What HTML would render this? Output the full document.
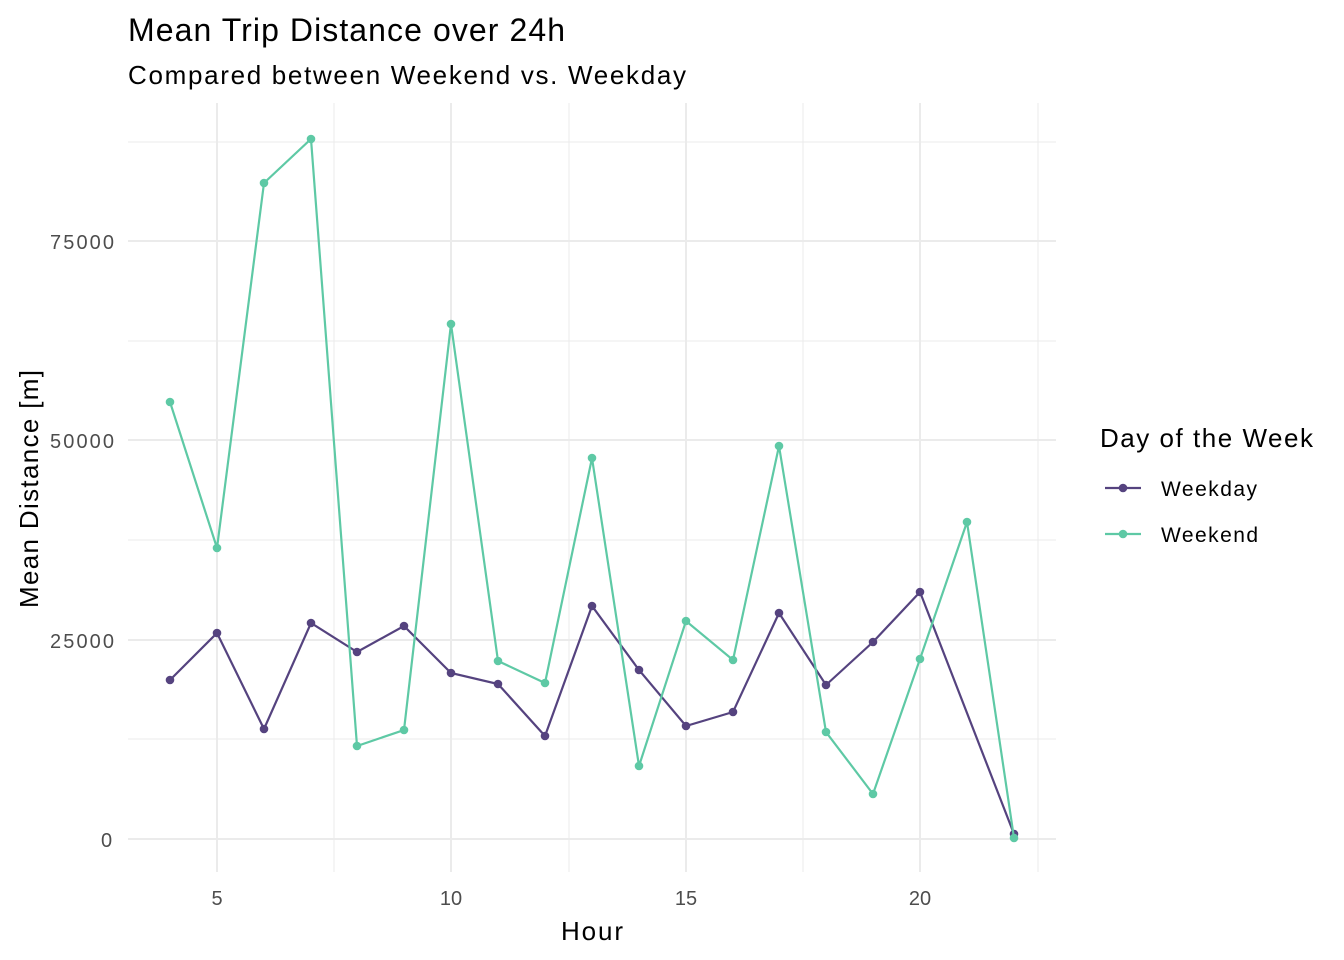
<!DOCTYPE html>
<html><head><style>body{margin:0;background:#fff}svg{display:block}</style></head>
<body>
<svg width="1344" height="960" xmlns="http://www.w3.org/2000/svg" font-family="Liberation Sans, Arial, sans-serif">
<rect width="1344" height="960" fill="#fff"/>
<g stroke="#ebebeb" stroke-width="1">
<line x1="128" x2="1056" y1="142" y2="142"/><line x1="128" x2="1056" y1="341" y2="341"/>
<line x1="128" x2="1056" y1="540" y2="540"/><line x1="128" x2="1056" y1="739" y2="739"/>
<line y1="103" y2="872" x1="334" x2="334"/><line y1="103" y2="872" x1="569" x2="569"/>
<line y1="103" y2="872" x1="803" x2="803"/><line y1="103" y2="872" x1="1038" x2="1038"/>
</g>
<g stroke="#ebebeb" stroke-width="2">
<line x1="128" x2="1056" y1="241" y2="241"/><line x1="128" x2="1056" y1="440" y2="440"/>
<line x1="128" x2="1056" y1="640" y2="640"/><line x1="128" x2="1056" y1="839" y2="839"/>
<line y1="103" y2="872" x1="217" x2="217"/><line y1="103" y2="872" x1="451" x2="451"/>
<line y1="103" y2="872" x1="686" x2="686"/><line y1="103" y2="872" x1="920" x2="920"/>
</g>
<g fill="#55437f" stroke="#55437f">
<polyline fill="none" stroke-width="2.2" points="170,680 217,633 264,729 311,623 357,652 404,626 451,673 498,684 545,736 592,606 639,670 686,726 733,712 779,613 826,685 873,642 920,592 1014,834"/>
<g stroke="none">
<circle cx="170" cy="680" r="4.3"/><circle cx="217" cy="633" r="4.3"/><circle cx="264" cy="729" r="4.3"/><circle cx="311" cy="623" r="4.3"/><circle cx="357" cy="652" r="4.3"/><circle cx="404" cy="626" r="4.3"/><circle cx="451" cy="673" r="4.3"/><circle cx="498" cy="684" r="4.3"/><circle cx="545" cy="736" r="4.3"/><circle cx="592" cy="606" r="4.3"/><circle cx="639" cy="670" r="4.3"/><circle cx="686" cy="726" r="4.3"/><circle cx="733" cy="712" r="4.3"/><circle cx="779" cy="613" r="4.3"/><circle cx="826" cy="685" r="4.3"/><circle cx="873" cy="642" r="4.3"/><circle cx="920" cy="592" r="4.3"/><circle cx="1014" cy="834" r="4.3"/>
</g></g>
<g fill="#5ec9a5" stroke="#5ec9a5">
<polyline fill="none" stroke-width="2.2" points="170,402 217,548 264,183 311,139 357,746 404,730 451,324 498,661 545,683 592,458 639,766 686,621 733,660 779,446 826,732 873,794 920,659 967,522 1014,838"/>
<g stroke="none">
<circle cx="170" cy="402" r="4.3"/><circle cx="217" cy="548" r="4.3"/><circle cx="264" cy="183" r="4.3"/><circle cx="311" cy="139" r="4.3"/><circle cx="357" cy="746" r="4.3"/><circle cx="404" cy="730" r="4.3"/><circle cx="451" cy="324" r="4.3"/><circle cx="498" cy="661" r="4.3"/><circle cx="545" cy="683" r="4.3"/><circle cx="592" cy="458" r="4.3"/><circle cx="639" cy="766" r="4.3"/><circle cx="686" cy="621" r="4.3"/><circle cx="733" cy="660" r="4.3"/><circle cx="779" cy="446" r="4.3"/><circle cx="826" cy="732" r="4.3"/><circle cx="873" cy="794" r="4.3"/><circle cx="920" cy="659" r="4.3"/><circle cx="967" cy="522" r="4.3"/><circle cx="1014" cy="838" r="4.3"/>
</g></g>
<g fill="#4d4d4d" font-size="20">
<text x="50" y="249" textLength="64">75000</text><text x="50" y="448" textLength="64">50000</text><text x="50" y="648" textLength="64">25000</text><text x="101" y="847">0</text>
</g>
<g fill="#4d4d4d" font-size="20" text-anchor="middle">
<text x="217" y="905">5</text><text x="451" y="905">10</text><text x="686" y="905">15</text><text x="920" y="905">20</text>
</g>
<text x="561" y="940" font-size="26" textLength="62" fill="#000">Hour</text>
<text transform="translate(38,608) rotate(-90)" font-size="26" textLength="238" fill="#000">Mean Distance [m]</text>
<text x="128" y="41" font-size="32" textLength="437" fill="#000">Mean Trip Distance over 24h</text>
<text x="128" y="84" font-size="26" textLength="558" fill="#000">Compared between Weekend vs. Weekday</text>
<text x="1100" y="447" font-size="26" textLength="213" fill="#000">Day of the Week</text>
<line x1="1105" x2="1141" y1="488" y2="488" stroke="#55437f" stroke-width="2.2"/><circle cx="1123" cy="488" r="4.3" fill="#55437f"/>
<line x1="1105" x2="1141" y1="534" y2="534" stroke="#5ec9a5" stroke-width="2.2"/><circle cx="1123" cy="534" r="4.3" fill="#5ec9a5"/>
<text x="1161" y="496" font-size="21" textLength="96" fill="#000">Weekday</text>
<text x="1161" y="542" font-size="21" textLength="97" fill="#000">Weekend</text>
</svg>
</body></html>
